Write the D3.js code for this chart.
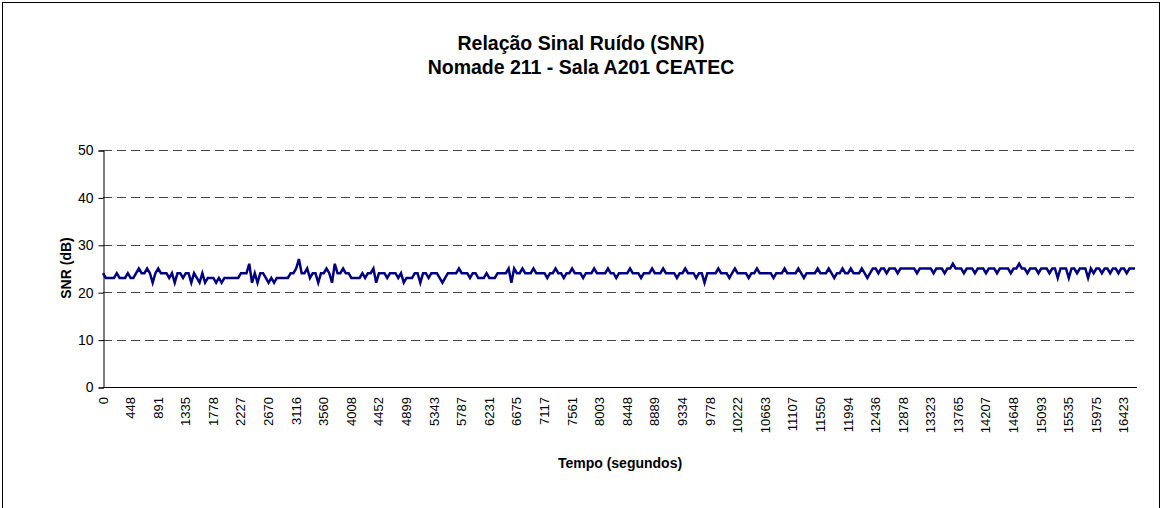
<!DOCTYPE html>
<html>
<head>
<meta charset="utf-8">
<script src="https://cdn.jsdelivr.net/npm/d3@7"></script>
<style>
  body { margin: 0; background: #fff; }
  text { font-family: "Liberation Sans", Arial, sans-serif; }
</style>
</head>
<body>
<div id="chart"></div>
<script>
// tick labels shown on the category axis (one every 10 samples)
var timeLabels = [0, 448, 891, 1335, 1778, 2227, 2670, 3116, 3560, 4008, 4452, 4899, 5343, 5787,
  6231, 6675, 7117, 7561, 8003, 8448, 8889, 9334, 9778, 10222, 10663, 11107, 11550, 11994,
  12436, 12878, 13323, 13765, 14207, 14648, 15093, 15535, 15975, 16423];

// SNR samples (dB), 10 per label interval
var snr = [
  24,23,23,23,23,24,23,23,23,24,
  23,23,24,25,24,24,25,24,22,24,
  25,24,24,24,23,24,22,24,24,23,
  24,24,22,24,23,22,24,22,23,23,
  23,22,23,22,23,23,23,23,23,23,
  24,24,24,26,22,24,22,24,24,23,
  22,23,22,23,23,23,23,23,24,24,
  25,27,24,24,25,23,24,24,22,24,
  24,25,24,22,26,24,24,25,24,24,
  23,23,23,23,24,23,24,24,25,22,
  24,24,24,23,24,24,24,23,24,22,
  23,23,23,24,24,22,24,24,23,24,
  24,24,23,22,23,24,24,24,24,25,
  24,24,24,23,24,24,23,23,23,24,
  23,23,23,24,24,24,24,25,22,25,
  24,24,25,24,24,24,25,24,24,24,
  24,23,24,24,25,24,24,23,24,24,
  25,24,24,24,23,24,24,24,25,24,
  24,24,24,25,24,24,23,24,24,24,
  24,25,24,24,24,23,24,24,24,25,
  24,24,24,25,24,24,24,24,23,24,
  24,25,24,24,24,23,24,24,22,24,
  24,24,24,25,24,24,24,23,24,25,
  24,24,24,24,23,24,24,25,24,24,
  24,24,24,23,24,24,24,25,24,24,
  24,24,25,24,23,24,24,24,24,25,
  24,24,24,25,24,23,24,24,25,24,
  24,25,24,24,24,25,24,23,24,25,
  25,24,25,25,24,25,25,25,24,25,
  25,25,25,25,25,24,25,25,25,25,
  25,24,25,25,25,24,25,25,26,25,
  25,25,24,25,25,25,24,25,25,25,
  24,25,25,25,24,25,25,25,25,24,
  25,25,26,25,25,24,25,25,25,24,
  25,25,25,24,25,25,23,25,25,25,
  23,25,25,24,25,25,25,23,25,24,
  25,25,24,25,25,24,25,25,24,25,
  25,24,25,25,25
];
var yTicks = [0, 10, 20, 30, 40, 50];

var width = 1162, height = 508;
var margin = {left: 103, right: 1137, top: 150, bottom: 387};

var svg = d3.select("#chart").append("svg")
  .attr("width", width)
  .attr("height", height);

// outer chart frame
svg.append("rect")
  .attr("x", 2.5).attr("y", 2.5)
  .attr("width", 1157).attr("height", 530)
  .attr("fill", "none")
  .attr("stroke", "#000")
  .attr("stroke-width", 1);

// titles
svg.append("text")
  .attr("x", 581).attr("y", 50)
  .attr("text-anchor", "middle")
  .style("font-size", "19.5px").style("font-weight", "bold")
  .text("Relação Sinal Ruído (SNR)");
svg.append("text")
  .attr("x", 581).attr("y", 74)
  .attr("text-anchor", "middle")
  .style("font-size", "19.5px").style("font-weight", "bold")
  .text("Nomade 211 - Sala A201 CEATEC");

var x = d3.scaleLinear()
  .domain([0, snr.length - 1])
  .range([margin.left, margin.right - 2]);

var y = d3.scaleLinear()
  .domain([0, 50])
  .range([margin.bottom, margin.top]);

// dashed gridlines
svg.append("g")
  .selectAll("line")
  .data(yTicks.filter(function (d) { return d > 0; }))
  .enter()
  .append("line")
    .attr("x1", margin.left).attr("x2", margin.right)
    .attr("y1", function (d) { return Math.round(y(d)) + 0.5; })
    .attr("y2", function (d) { return Math.round(y(d)) + 0.5; })
    .attr("stroke", "#444")
    .attr("stroke-dasharray", "9,5");

// y axis
var yAxis = svg.append("g")
  .attr("transform", "translate(" + (margin.left + 0.5) + ",0.5)")
  .call(d3.axisLeft(y).tickValues(yTicks).tickSize(5).tickPadding(5));
yAxis.select(".domain").attr("stroke", "#000");
yAxis.selectAll("text").style("font-size", "14px").attr("fill", "#000")
  .style("font-family", "Liberation Sans, Arial, sans-serif");

svg.append("text")
  .attr("transform", "rotate(-90)")
  .attr("x", -268).attr("y", 71)
  .attr("text-anchor", "middle")
  .style("font-size", "14px").style("font-weight", "bold")
  .text("SNR (dB)");

// x axis line
svg.append("line")
  .attr("x1", margin.left).attr("x2", margin.right)
  .attr("y1", margin.bottom + 0.5).attr("y2", margin.bottom + 0.5)
  .attr("stroke", "#000");

// x tick labels, one every 10 samples
svg.append("g")
  .selectAll("text")
  .data(timeLabels)
  .enter()
  .append("text")
    .attr("transform", function (d, i) {
      return "translate(" + (x(i * 10) + 4.5) + "," + (margin.bottom + 10) + ") rotate(-90)";
    })
    .attr("text-anchor", "end")
    .style("font-size", "13px")
    .text(function (d) { return d; });

svg.append("text")
  .attr("x", 620).attr("y", 468)
  .attr("text-anchor", "middle")
  .style("font-size", "14px").style("font-weight", "bold")
  .text("Tempo (segundos)");

// the SNR series
var line = d3.line()
  .x(function (d, i) { return x(i); })
  .y(function (d) { return y(d); });

svg.append("path")
  .datum(snr)
  .attr("d", line)
  .attr("fill", "none")
  .attr("stroke", "#000080")
  .attr("stroke-width", 2.5);
</script>
</body>
</html>
